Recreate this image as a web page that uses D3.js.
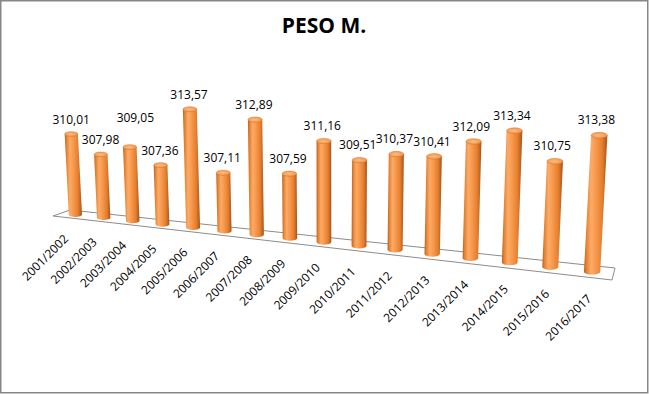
<!DOCTYPE html>
<html>
<head>
<meta charset="utf-8">
<script src="https://cdn.jsdelivr.net/npm/d3@7"></script>
<style>
  body { margin: 0; background: #fff; }
</style>
</head>
<body>
<script>

/* Data */

var temporadas = ["2001/2002", "2002/2003", "2003/2004", "2004/2005", "2005/2006", "2006/2007",
    "2007/2008", "2008/2009", "2009/2010", "2010/2011", "2011/2012", "2012/2013",
    "2013/2014", "2014/2015", "2015/2016", "2016/2017"];

var peso = [310.01, 307.98, 309.05, 307.36, 313.57, 307.11, 312.89, 307.59,
    311.16, 309.51, 310.37, 310.41, 312.09, 313.34, 310.75, 313.38];

var titulo = "PESO M.";
var ejeMin = 301;
var ejeMax = 314;


/* Layout */

var width = 649, height = 394;

// floor corners: back-left, back-right, front-left, front-right
var bl = [70, 210], br = [615, 268], fl = [53, 216], fr = [612, 280];
var g = 1.25;          // perspective strength
var fuga = 330;        // x where cylinders stand upright
var tilt = 0.0002;

var es = d3.formatLocale({decimal: ",", thousands: ".", grouping: [3], currency: ["", "€"]});
var fmt = es.format(".2f");

var svg = d3.select("body")
    .append("svg")
    .attr("width", width)
    .attr("height", height);

var defs = svg.append("defs");

var grad = defs.append("linearGradient")
    .attr("id", "cuerpo")
    .attr("x1", 0).attr("x2", 1).attr("y1", 0).attr("y2", 0);
[[0, "#b55d1c"], [0.1, "#e5802f"], [0.3, "#fbab68"], [0.5, "#f8994c"], [0.78, "#e47e2e"], [1, "#a65219"]]
    .forEach(function(s) {
        grad.append("stop").attr("offset", s[0]).attr("stop-color", s[1]);
    });

var gradTop = defs.append("radialGradient")
    .attr("id", "tapa")
    .attr("cx", 0.45).attr("cy", 0.5).attr("r", 0.6);
gradTop.append("stop").attr("offset", 0).attr("stop-color", "#fdbb82");
gradTop.append("stop").attr("offset", 1).attr("stop-color", "#f29345");


/* Scales */

var cat = d3.scaleBand()
    .domain(temporadas)
    .range([0, 1]);

var alto = d3.scaleLinear()
    .domain([ejeMin, ejeMax])
    .range([0, 11.1 * (ejeMax - ejeMin)]);

function persp(t) { return t / (g - (g - 1) * t); }
function escala(t) { return 1 / (g - (g - 1) * t); }

function proyectar(t, v) {
    var p = persp(t);
    var bx = bl[0] + (br[0] - bl[0]) * p, by = bl[1] + (br[1] - bl[1]) * p;
    var fx = fl[0] + (fr[0] - fl[0]) * p, fy = fl[1] + (fr[1] - fl[1]) * p;
    return [bx + (fx - bx) * v, by + (fy - by) * v];
}


/* Border + title */

svg.append("rect")
    .attr("x", 0.75).attr("y", 0.75)
    .attr("width", width - 2).attr("height", height - 2)
    .attr("fill", "#fff")
    .attr("stroke", "#878787")
    .attr("stroke-width", 1.5);

svg.append("text")
    .attr("x", 324)
    .attr("y", 33)
    .attr("text-anchor", "middle")
    .attr("font-family", "Open Sans")
    .attr("font-weight", "bold")
    .attr("font-size", 21)
    .attr("fill", "#000")
    .text(titulo);


/* Floor */

svg.append("path")
    .attr("d", "M" + [proyectar(0, 0), proyectar(1, 0), proyectar(1, 1), proyectar(0, 1)].join("L") + "Z")
    .attr("fill", "#fff")
    .attr("stroke", "#8c8c8c")
    .attr("stroke-width", 1);


/* Cylinders */

var datos = temporadas.map(function(c, i) {
    var t = cat(c) + cat.bandwidth() / 2;
    var s = escala(t);
    var b = proyectar(t, 0.5);
    var h = alto(peso[i]) * s;
    var rx = 8.2 * s;
    return {
        cat: c, valor: peso[i], t: t, s: s,
        bx: b[0], by: b[1],
        tx: b[0] + tilt * (b[0] - fuga) * h, ty: b[1] - h,
        rx: rx, ry: rx * 0.36
    };
});

var node = svg.selectAll(".cil")
    .data(datos)
    .enter()
    .append("g")
    .attr("class", "cil");

node.append("path")
    .attr("d", function(d) {
        return "M" + (d.bx - d.rx) + "," + d.by +
            "L" + (d.tx - d.rx) + "," + d.ty +
            "L" + (d.tx + d.rx) + "," + d.ty +
            "L" + (d.bx + d.rx) + "," + d.by +
            "A" + d.rx + "," + d.ry + " 0 0 1 " + (d.bx - d.rx) + "," + d.by + "Z";
    })
    .attr("fill", "url(#cuerpo)");

node.append("ellipse")
    .attr("cx", function(d) { return d.tx; })
    .attr("cy", function(d) { return d.ty; })
    .attr("rx", function(d) { return d.rx; })
    .attr("ry", function(d) { return d.ry; })
    .attr("fill", "url(#tapa)")
    .attr("stroke", "#d27329")
    .attr("stroke-width", 0.5);

// value labels
var etiquetas = node.append("text")
    .attr("x", function(d) { return d.tx - 3 * d.t; })
    .attr("y", function(d) { return d.ty - d.ry - 8; })
    .attr("text-anchor", "middle")
    .attr("font-family", "Open Sans")
    .attr("font-size", 12)
    .attr("fill", "#000")
    .text(function(d) { return fmt(d.valor); });

// push a label up when it runs into the one before it (like Excel does)
var prev = null;
etiquetas.each(function(d) {
    var el = d3.select(this);
    var w = this.getComputedTextLength();
    var box = {x0: +el.attr("x") - w / 2, x1: +el.attr("x") + w / 2, y: +el.attr("y")};
    if (prev && box.x0 < prev.x1 - 3 && Math.abs(box.y - prev.y) < 11) {
        el.attr("x", +el.attr("x") + 6).attr("y", prev.y - 22);
        box = {x0: box.x0 + 6, x1: box.x1 + 6, y: prev.y - 22};
    }
    prev = box;
});

// category labels
node.append("text")
    .attr("transform", function(d) {
        var p = proyectar(d.t, 1);
        return "translate(" + (p[0] + 2) + "," + (p[1] + 22) + ") rotate(-45)";
    })
    .attr("text-anchor", "end")
    .attr("font-family", "Open Sans")
    .attr("font-size", 12)
    .attr("fill", "#000")
    .text(function(d) { return d.cat; });

</script>
</body>
</html>
